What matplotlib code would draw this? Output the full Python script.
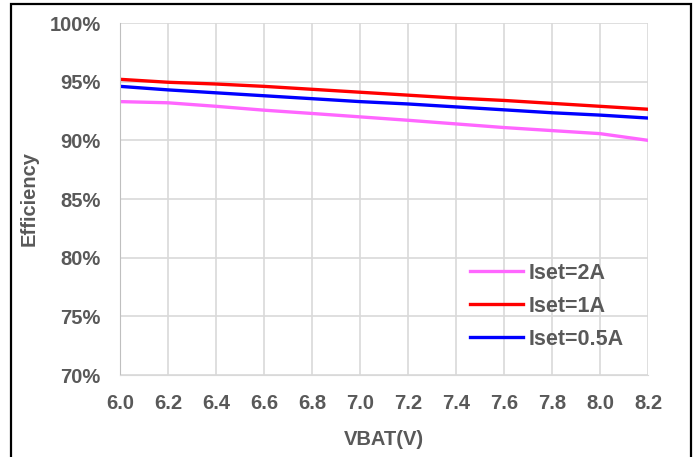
import numpy as np
import matplotlib.pyplot as plt
from matplotlib.patches import Rectangle

plt.rcParams['font.family'] = ['Liberation Sans', 'DejaVu Sans']
plt.rcParams['font.weight'] = 'bold'

# data
vbat = [6.0, 6.2, 6.4, 6.6, 6.8, 7.0, 7.2, 7.4, 7.6, 7.8, 8.0, 8.2]
eff_2a = [93.3, 93.2, 92.9, 92.57, 92.29, 92.0, 91.71, 91.4, 91.09, 90.83, 90.57, 90.0]
eff_1a = [95.2, 94.95, 94.8, 94.6, 94.35, 94.1, 93.85, 93.6, 93.4, 93.15, 92.9, 92.65]
eff_05a = [94.6, 94.3, 94.05, 93.8, 93.55, 93.3, 93.1, 92.85, 92.6, 92.35, 92.15, 91.9]
x_ticks = vbat
y_ticks = [70, 75, 80, 85, 90, 95, 100]

W, H = 697, 457
fig = plt.figure(figsize=(W / 100, H / 100), dpi=100)
ax = fig.add_axes([120 / W, 1 - 375 / H, (648 - 120) / W, (375 - 23) / H])

text_col = '#595959'
fs = 14.5
ax.plot(vbat, eff_2a, color='#FF66FF', lw=2.4, label='Iset=2A')
ax.plot(vbat, eff_1a, color='#FF0000', lw=2.4, label='Iset=1A')
ax.plot(vbat, eff_05a, color='#0000FF', lw=2.4, label='Iset=0.5A')

ax.set_xlim(6.0, 8.2)
ax.set_ylim(70, 100)
ax.set_xticks(x_ticks)
ax.set_xticklabels([f'{v:.1f}' for v in x_ticks])
ax.set_yticks(y_ticks)
ax.set_yticklabels([f'{v}%' for v in y_ticks])
ax.tick_params(length=0, labelsize=fs, colors=text_col)
ax.tick_params(axis='x', pad=14)
ax.tick_params(axis='y', pad=14)
ax.grid(True, color='#D9D9D9', lw=1.2)
for s in ax.spines.values():
    s.set_visible(False)
ax.spines['left'].set_visible(True)
ax.spines['left'].set_color('#BFBFBF')
ax.spines['bottom'].set_visible(True)
ax.spines['bottom'].set_color('#D9D9D9')

ax.set_xlabel('VBAT(V)', fontsize=fs, fontweight='bold', color=text_col, labelpad=12)
ax.set_ylabel('Efficiency', fontsize=fs, fontweight='bold', color=text_col)
ax.yaxis.set_label_coords(-81 / 528, 0.5)

leg = ax.legend(loc='upper left', bbox_to_anchor=(470 / W, 1 - 263 / H),
                bbox_transform=fig.transFigure, frameon=False,
                fontsize=15.5, handlelength=2.45, handletextpad=0.25,
                labelspacing=0.55, borderpad=0, borderaxespad=0)
for t in leg.get_texts():
    t.set_color(text_col)

fig.patches.append(Rectangle((11 / W, -0.01), (691 - 11) / W, 1 - 4 / H + 0.01,
                             transform=fig.transFigure, fill=False,
                             edgecolor='black', lw=1.6))

fig.savefig('out.png', dpi=100)
